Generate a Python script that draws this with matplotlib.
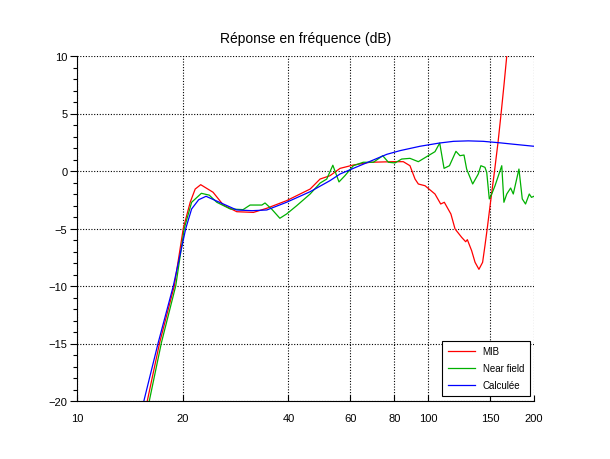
import matplotlib
matplotlib.use('Agg')
import matplotlib.pyplot as plt
from matplotlib.ticker import FixedLocator, NullLocator, MultipleLocator

plt.rcParams['font.family'] = ['Liberation Sans', 'DejaVu Sans']

mib_f = [15.85, 17.2, 18.92, 20.07, 21.0, 21.7, 22.5, 24.4, 26.1, 28.5, 31.8,
         34.7, 39.5, 46.1, 49.2, 52.5, 56.1, 61.2, 68.3, 79.5, 84.9, 88.7,
         91.7, 93.7, 97.9, 104.5, 108.5, 111.1, 116.0, 119.2, 124.5, 127.8,
         129.2, 132.9, 135.9, 139.4, 142.8, 145.0, 147.2, 150.7, 154.4, 158.0,
         161.2, 164.3, 167.3]
mib_db = [-20, -14.9, -10, -5.0, -2.72, -1.57, -1.19, -1.85, -2.96, -3.54, -3.6,
          -3.24, -2.58, -1.57, -0.70, -0.41, 0.23, 0.52, 0.76, 0.81, 0.81, 0.46,
          -0.70, -1.13, -1.28, -2.0, -2.87, -2.72, -3.74, -5.04, -5.77, -6.15,
          -5.97, -6.93, -7.94, -8.55, -7.94, -6.5, -5.0, -2.5, 0.0, 2.5,
          5.0, 7.5, 10.0]

nf_f = [16.06, 17.4, 19.1, 20.2, 21.2, 22.6, 23.8, 25.0, 27.3, 29.7,
        31.1, 33.6, 34.3, 35.8, 37.8, 39.5, 42.2, 46.1, 49.2, 51.4,
        53.5, 55.7, 57.9, 61.2, 65.3, 69.8, 74.2, 77.0, 80.4, 84.0,
        88.7, 93.7, 100.0, 104.5, 107.8, 110.9, 114.9, 119.9, 123.1, 126.4,
        128.6, 133.8, 138.8, 141.2, 145.0, 146.7, 149.2, 151.6, 154.9, 161.9,
        164.2, 167.3, 171.6, 174.6, 181.2, 185.2, 189.2, 193.9, 196.7, 200]
nf_db = [-20, -14.9, -10, -5.0, -2.72, -1.94, -2.1, -2.72, -3.3, -3.36,
         -2.96, -2.96, -2.78, -3.3, -4.11, -3.74, -3.02, -2.0, -1.05, -0.7,
         0.5, -0.95, -0.41, 0.46, 0.76, 0.76, 1.33, 0.76, 0.70, 1.04,
         1.10, 0.81, 1.33, 1.68, 2.43, 0.23, 0.46, 1.71, 1.33, 1.39,
         0.17, -1.13, -0.26, 0.46, 0.32, -0.12, -2.43, -2.0, -1.28, 0.46,
         -2.72, -2.0, -1.48, -2.0, 0.17, -2.43, -2.87, -2.0, -2.29, -2.2]

calc_f = [15.5, 17.04, 18.8, 20.4, 21.2, 22.2, 23.3, 26.1, 28.5, 31.5, 34.7,
          39.5, 46.1, 52.5, 56.1, 61.2, 76.2, 83.1, 94.7, 107.5, 118.0, 130.0,
          143.4, 160.0, 174.6, 200.0]
calc_db = [-20, -14.9, -10, -5.0, -3.3, -2.5, -2.2, -2.87, -3.39, -3.45, -3.39,
           -2.72, -1.8, -0.84, -0.26, 0.23, 1.45, 1.77, 2.15, 2.43, 2.58, 2.62,
           2.58, 2.45, 2.33, 2.15]

xticks = [10, 20, 40, 60, 80, 100, 150, 200]

fig = plt.figure(figsize=(6.1, 4.6), dpi=100)
ax = fig.add_axes([77 / 610, 58 / 460, 457 / 610, 345 / 460])

ax.plot(mib_f, mib_db, color='#ff0000', lw=0.9, label='MIB')
ax.plot(nf_f, nf_db, color='#00b000', lw=0.9, label='Near field')
ax.plot(calc_f, calc_db, color='#0000ff', lw=0.9, label='Calculée')

ax.set_xscale('log')
ax.set_xlim(10, 200)
ax.set_ylim(-20, 10)
ax.xaxis.set_major_locator(FixedLocator(xticks))
ax.xaxis.set_minor_locator(NullLocator())
ax.set_xticklabels([str(t) for t in xticks])
ax.yaxis.set_major_locator(MultipleLocator(5))
ax.yaxis.set_minor_locator(MultipleLocator(1))

ax.grid(True, which='major', color='black', linestyle=(0, (1, 1.5)), lw=0.8)
for s in ['top', 'right']:
    ax.spines[s].set_visible(False)
ax.spines['left'].set_linewidth(0.8)
ax.spines['bottom'].set_linewidth(0.8)

ax.tick_params(axis='x', direction='in', length=4, width=0.8, pad=9, labelsize=8)
ax.tick_params(axis='y', which='major', direction='out', length=5, width=0.8, pad=2, labelsize=8)
ax.tick_params(axis='y', which='minor', direction='out', length=3, width=0.8)

ax.set_title('Réponse en fréquence (dB)', fontsize=10, pad=10)

leg = ax.legend(loc='lower right', bbox_to_anchor=(0.991, 0.015), borderaxespad=0,
                fontsize=7, frameon=True, fancybox=False, edgecolor='black',
                framealpha=1, handlelength=2.8, borderpad=0.6, labelspacing=0.7)
leg.get_frame().set_linewidth(0.8)

plt.savefig('out.png', dpi=100)
